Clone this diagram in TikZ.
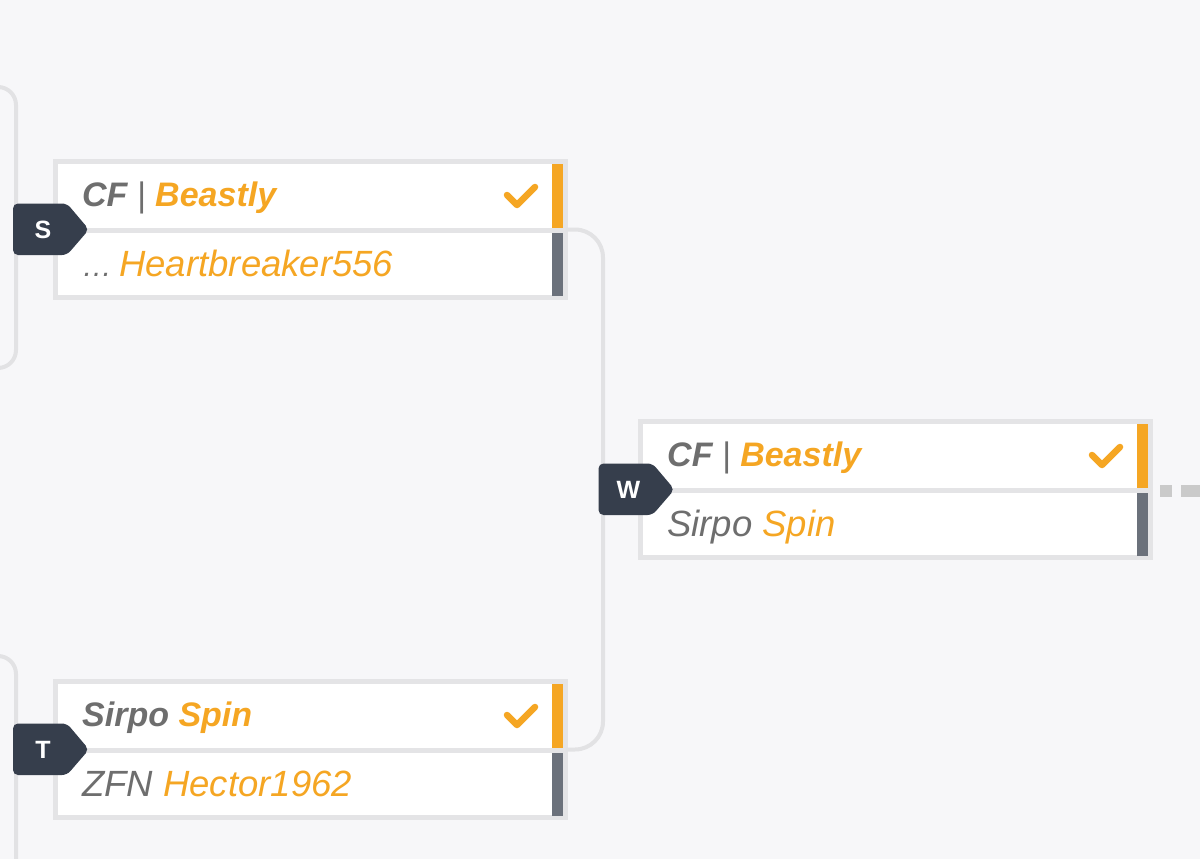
\documentclass[tikz,border=0pt]{standalone}
\usepackage{fontspec}
\setmainfont{Liberation Sans}
\usepackage{tikz}

\definecolor{pagebg}{HTML}{F7F7F9}
\definecolor{boxline}{HTML}{E4E4E6}
\definecolor{linkgray}{HTML}{E2E2E4}
\definecolor{nextgray}{HTML}{CACACA}
\definecolor{winorange}{HTML}{F5A623}
\definecolor{losebar}{HTML}{6B717B}
\definecolor{tagbg}{HTML}{363E4C}
\definecolor{teamgray}{HTML}{6E6E6E}

\begin{document}
\begin{tikzpicture}[x=1pt, y=-1pt]
	\tikzstyle{matchbox} = [rectangle, draw=boxline, line width=5pt, fill=white, minimum width=510pt, minimum height=136pt, inner sep=0pt, outer sep=0pt]
	\tikzstyle{link} = [draw=linkgray, line width=4pt, rounded corners=28pt]
	\tikzstyle{feed} = [draw=linkgray, line width=4pt, rounded corners=18pt]
	\tikzstyle{winrow} = [anchor=base west, inner sep=0pt, text=teamgray, font=\fontsize{34}{40}\selectfont\bfseries\itshape]
	\tikzstyle{loserow} = [anchor=base west, inner sep=0pt, text=teamgray, font=\fontsize{36.5}{40}\selectfont\itshape]
	\tikzstyle{tagletter} = [inner sep=0pt, text=white, font=\fontsize{25}{25}\selectfont\bfseries]
	\tikzstyle{tick} = [draw=winorange, line width=6.5pt, line cap=round, line join=round]
	\useasboundingbox (0,0) rectangle (1200,859);
	\fill[pagebg] (0,0) rectangle (1200,859);
	% feeders from the earlier round
	\coordinate (sPrevA) at (-40,87);
	\coordinate (sPrevB) at (-40,368);
	\coordinate (sFeed) at (16,229.5);
	\coordinate (tPrevA) at (-40,656);
	\coordinate (tPrevB) at (-40,940);
	\coordinate (tFeed) at (16,749.5);
	\draw[feed] (sPrevA) -| (sFeed) |- (sPrevB);
	\draw[feed] (tPrevA) -| (tFeed) |- (tPrevB);
	% matches
	\node[matchbox] (sBox) at (310.5,229.5) {};
	\node[matchbox] (tBox) at (310.5,749.5) {};
	\node[matchbox] (wBox) at (895.5,489.5) {};
	\draw[link] (sBox.east) -- ++(37.5,0) |- (tBox.east);
	\coordinate (wNext) at (1230,491);
	\draw[draw=nextgray, line width=12pt, dash pattern=on 12pt off 9pt on 40pt off 9pt, shorten <=9.5pt] (wBox.east) ++(0,1.5) -- (wNext);
	\node[matchbox] at (wBox) {};
	% rows
	\foreach \bx/\by in {0/0, 0/520, 585/260} {
		\draw[boxline, line width=5pt] (58+\bx,230+\by) -- (563+\bx,230+\by);
		\fill[winorange] (552+\bx,164+\by) rectangle (563+\bx,227.5+\by);
		\fill[losebar] (552+\bx,232.5+\by) rectangle (563+\bx,296+\by);
		\draw[tick] (507+\bx,195+\by) -- (517+\bx,205+\by) -- (535+\bx,187+\by);
	}
	\node[winrow] (sTop) at (82,206) {CF {\mdseries|} \textcolor{winorange}{Beastly}};
	\node[loserow] (sBot) at (82,276) {{\fontsize{30}{30}\selectfont…}\hspace{-3pt} \textcolor{winorange}{Heartbreaker556}};
	\node[winrow] (tTop) at (82,726) {Sirpo \textcolor{winorange}{Spin}};
	\node[loserow] (tBot) at (82,796) {ZFN \textcolor{winorange}{Hector1962}};
	\node[winrow] (wTop) at (667,466) {CF {\mdseries|} \textcolor{winorange}{Beastly}};
	\node[loserow] (wBot) at (667,536) {Sirpo \textcolor{winorange}{Spin}};
	% round tags
	\foreach \name/\x/\y in {S/43/229.5, T/43/749.5, W/628.5/489.5} {
		\fill[tagbg, rounded corners=5pt] (\x-30,\y-26) -- (\x+24,\y-26) -- (\x+46,\y) -- (\x+24,\y+25.5) -- (\x-30,\y+25.5) -- cycle;
		\node[tagletter] (tag\name) at (\x,\y) {\name};
	}
\end{tikzpicture}
\end{document}
